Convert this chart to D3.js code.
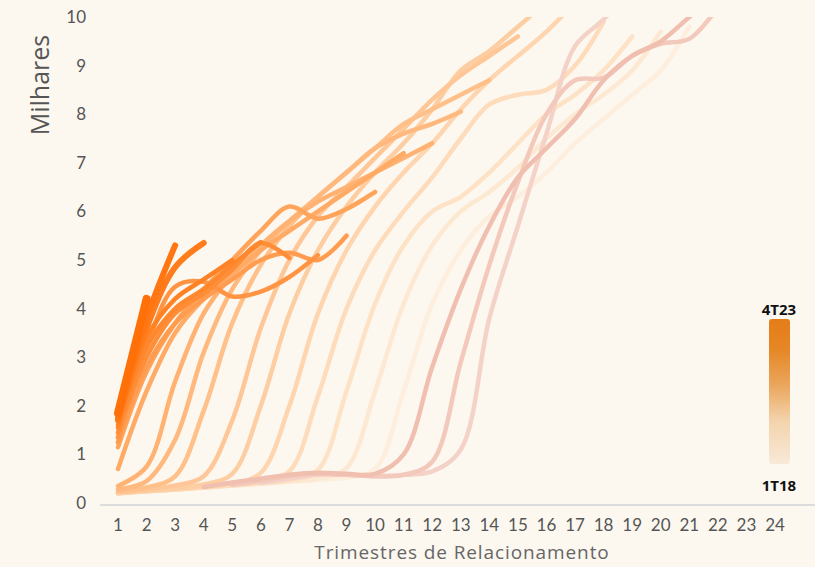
<!DOCTYPE html>
<html>
<head>
<meta charset="utf-8">
<script src="https://cdn.jsdelivr.net/npm/d3@7"></script>
<style>
  html, body { margin: 0; padding: 0; background: #fcf8f0; }
  svg { display: block; }
</style>
</head>
<body>
<div id="chart"></div>
<script>
// cohort curves: value (thousands) by relationship quarter, one line per entry cohort

var quarters = d3.range(1, 25);
var yTicks = [0, 1, 2, 3, 4, 5, 6, 7, 8, 9, 10];

var cohorts = ["1T18","2T18","3T18","4T18","1T19","2T19","3T19","4T19",
               "1T20","2T20","3T20","4T20","1T21","2T21","3T21","4T21",
               "1T22","2T22","3T22","4T22","1T23","2T23","3T23","4T23"];

// first relationship quarter with data for each cohort
var firstQuarter = [6, 5, 4, 3, 2, 1, 1, 1, 1, 1, 1, 1, 1, 1, 1, 1, 1, 1, 1, 1, 1, 1, 1, 1];

var v1T18 = [0.41, 0.50, 0.58, 0.58, 0.55, 0.58, 0.65, 1.1, 3.8, 5.7, 7.6, 9.4, 9.95, 10.6];
var v2T18 = [0.37, 0.45, 0.55, 0.60, 0.58, 0.55, 0.58, 0.85, 2.9, 4.9, 6.6, 8.0, 8.7, 8.75, 9.2, 9.45, 9.55, 10.2];
var v3T18 = [0.33, 0.42, 0.50, 0.58, 0.62, 0.60, 0.60, 1.0, 2.8, 4.4, 5.7, 6.7, 7.3, 7.9, 8.7, 9.2, 9.5, 10.0, 10.5];
var v4T18 = [0.28, 0.32, 0.36, 0.40, 0.44, 0.48, 0.52, 0.70, 2.3, 4.1, 5.2, 5.9, 6.3, 6.8, 7.4, 7.9, 8.4, 8.9, 9.8];
var v1T19 = [0.25, 0.28, 0.32, 0.36, 0.40, 0.44, 0.50, 0.72, 2.3, 4.1, 5.3, 6.0, 6.4, 6.9, 7.5, 8.0, 8.4, 8.9, 9.7];
var v2T19 = [0.20, 0.24, 0.28, 0.32, 0.36, 0.40, 0.46, 0.68, 2.3, 4.1, 5.3, 6.0, 6.3, 6.8, 7.4, 8.0, 8.4, 8.9, 9.6];
var v3T19 = [0.20, 0.24, 0.28, 0.32, 0.37, 0.44, 0.65, 2.2, 4.0, 5.2, 6.0, 6.7, 7.5, 8.2, 8.4, 8.5, 9.0, 9.9];
var v4T19 = [0.20, 0.24, 0.28, 0.33, 0.40, 0.62, 2.0, 3.9, 5.2, 6.1, 6.8, 7.4, 8.1, 8.7, 9.2, 9.7, 10.3];
var v1T20 = [0.20, 0.25, 0.30, 0.38, 0.60, 2.0, 3.9, 5.2, 6.1, 6.8, 7.4, 8.1, 8.9, 9.3, 9.8, 10.3];
var v2T20 = [0.22, 0.28, 0.36, 0.55, 1.7, 3.6, 5.0, 5.9, 6.5, 7.1, 7.7, 8.3, 8.8, 9.2, 9.6];
var v3T20 = [0.25, 0.32, 0.55, 1.9, 3.7, 4.9, 5.7, 6.3, 6.8, 7.3, 7.8, 8.1, 8.4, 8.7];
var v4T20 = [0.28, 0.45, 1.3, 3.1, 4.4, 5.2, 5.8, 6.3, 6.8, 7.3, 7.6, 7.8, 8.05];
var v1T21 = [0.35, 0.75, 2.5, 3.9, 4.7, 5.3, 5.8, 6.2, 6.5, 6.8, 7.1, 7.4];
var v2T21 = [0.70, 2.3, 3.5, 4.2, 4.7, 5.2, 5.6, 6.0, 6.4, 6.8, 7.2];
var v3T21 = [1.15, 2.7, 3.7, 4.4, 5.0, 5.6, 6.1, 5.85, 6.05, 6.4];
var v4T21 = [1.25, 2.8, 3.7, 4.2, 4.6, 5.0, 5.15, 5.0, 5.5];
var v1T22 = [1.35, 3.2, 4.45, 4.55, 4.25, 4.35, 4.65, 5.1];
var v2T22 = [1.45, 3.0, 3.9, 4.3, 4.8, 5.35, 5.04];
var v3T22 = [1.55, 3.2, 4.0, 4.4, 4.9, 5.37];
var v4T22 = [1.6, 3.4, 4.2, 4.6, 5.0];
var v1T23 = [1.7, 3.6, 4.85, 5.35];
var v2T23 = [1.75, 3.8, 5.3];
var v3T23 = [1.85, 4.2];
var v4T23 = [1.9];

var seriesValues = [v1T18, v2T18, v3T18, v4T18, v1T19, v2T19, v3T19, v4T19,
                    v1T20, v2T20, v3T20, v4T20, v1T21, v2T21, v3T21, v4T21,
                    v1T22, v2T22, v3T22, v4T22, v1T23, v2T23, v3T23, v4T23];

(function () {
    var width = 815,
        height = 567;

    var svg = d3.select('#chart')
                .append('svg')
                .attr('width', width)
                .attr('height', height)
                .style('background', '#fcf8f0');

    var xScale = d3.scaleLinear()
                   .domain([1, 24])
                   .range([118, 775]);

    var yScale = d3.scaleLinear()
                   .domain([0, 10])
                   .range([503, 17]);

    // pink (oldest) -> cream -> orange (newest)
    var colour = d3.scaleLinear()
                   .domain([0, 2, 3, 6, 12, 17, 23])
                   .range(['#f5d2c7', '#f0bfb0', '#fdeedd', '#fedcbb', '#ffb272', '#ff8e38', '#ff6a00'])
                   .interpolate(d3.interpolateRgb);

    var data = cohorts.map(function (c, i) {
        return {
            cohort: c,
            index: i,
            points: seriesValues[i].map(function (v, j) {
                return { q: firstQuarter[i] + j, v: v };
            })
        };
    });

    svg.append('clipPath')
       .attr('id', 'plotClip')
       .append('rect')
       .attr('x', 90)
       .attr('y', yScale(10))
       .attr('width', 720)
       .attr('height', yScale(0) - yScale(10) + 10);

    // x axis baseline
    svg.append('line')
       .attr('x1', 100)
       .attr('x2', width)
       .attr('y1', 505)
       .attr('y2', 505)
       .attr('stroke', '#dcdcdc')
       .attr('stroke-width', 2);

    var line = d3.line()
                 .x(function (d) { return xScale(d.q); })
                 .y(function (d) { return yScale(d.v); })
                 .curve(d3.curveCatmullRom.alpha(0.5));

    // drawing order: cream first, then pink, then the orange cohorts on top
    var order = d3.range(3, 13).concat([0, 1, 2]).concat(d3.range(13, 24));

    svg.append('g')
       .attr('clip-path', 'url(#plotClip)')
       .selectAll('path')
       .data(order.map(function (i) { return data[i]; }).filter(function (d) { return d.points.length > 1; }))
       .enter()
       .append('path')
       .attr('d', function (d) { return line(d.points); })
       .attr('fill', 'none')
       .attr('stroke', function (d) { return colour(d.index); })
       .attr('stroke-width', function (d) {
           if (d.index == 22) return 8;
           if (d.index >= 20) return 6;
           return 4.5;
       })
       .attr('stroke-linecap', 'round')
       .attr('stroke-linejoin', 'round');

    // x tick labels
    svg.append('g')
       .selectAll('text')
       .data(quarters)
       .enter()
       .append('text')
       .attr('x', function (d) { return xScale(d); })
       .attr('y', 531)
       .attr('text-anchor', 'middle')
       .style('font-family', 'Lato, "Noto Sans", sans-serif')
       .style('font-size', '17px')
       .style('fill', '#555')
       .text(function (d) { return d; });

    // y tick labels
    svg.append('g')
       .selectAll('text')
       .data(yTicks)
       .enter()
       .append('text')
       .attr('x', 86)
       .attr('y', function (d) { return yScale(d) + 6; })
       .attr('text-anchor', 'end')
       .style('font-family', 'Lato, "Noto Sans", sans-serif')
       .style('font-size', '17px')
       .style('fill', '#555')
       .text(function (d) { return d; });

    svg.append('text')
       .attr('transform', 'translate(49,85) rotate(-90)')
       .attr('text-anchor', 'middle')
       .style('font-family', '"Open Sans", sans-serif')
       .style('font-size', '25px')
       .style('fill', '#555')
       .text('Milhares');

    svg.append('text')
       .attr('x', 462)
       .attr('y', 559)
       .attr('text-anchor', 'middle')
       .style('font-family', '"Open Sans", sans-serif')
       .style('font-size', '19px')
       .style('letter-spacing', '0.9px')
       .style('fill', '#666')
       .text('Trimestres de Relacionamento');

    // colour legend
    var grad = svg.append('defs')
                  .append('linearGradient')
                  .attr('id', 'legendGrad')
                  .attr('x1', 0).attr('y1', 1)
                  .attr('x2', 0).attr('y2', 0);
    grad.append('stop').attr('offset', '0%').attr('stop-color', '#f8e9d8');
    grad.append('stop').attr('offset', '30%').attr('stop-color', '#f3d3ac');
    grad.append('stop').attr('offset', '55%').attr('stop-color', '#eaa55b');
    grad.append('stop').attr('offset', '80%').attr('stop-color', '#e68624');
    grad.append('stop').attr('offset', '100%').attr('stop-color', '#e47d18');

    svg.append('rect')
       .attr('x', 769)
       .attr('y', 319)
       .attr('width', 21)
       .attr('height', 145)
       .attr('rx', 3)
       .attr('fill', 'url(#legendGrad)');

    svg.append('text')
       .attr('x', 779)
       .attr('y', 315)
       .attr('text-anchor', 'middle')
       .style('font-family', '"Open Sans", sans-serif')
       .style('font-weight', 'bold')
       .style('font-size', '15px')
       .style('fill', '#111')
       .text(cohorts[cohorts.length - 1]);

    svg.append('text')
       .attr('x', 779)
       .attr('y', 491)
       .attr('text-anchor', 'middle')
       .style('font-family', '"Open Sans", sans-serif')
       .style('font-weight', 'bold')
       .style('font-size', '15px')
       .style('fill', '#111')
       .text(cohorts[0]);
})();
</script>
</body>
</html>
